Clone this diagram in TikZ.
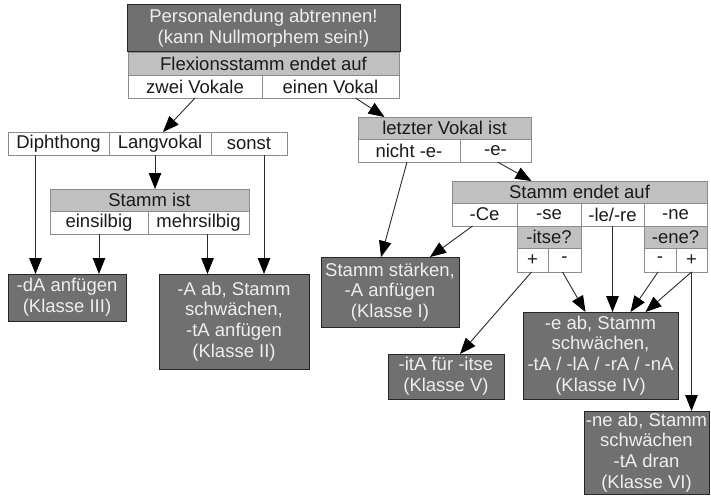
\documentclass[tikz,border=0pt]{standalone}
\usepackage{fontspec}
\setmainfont{Liberation Sans}
\usetikzlibrary{arrows.meta}
\definecolor{darkfill}{HTML}{707070}
\definecolor{headfill}{HTML}{C0C0C0}
\definecolor{tabline}{HTML}{8C8C8C}
\definecolor{lighttext}{HTML}{EEEEF2}
\definecolor{darktext}{HTML}{1A1A1A}
\definecolor{arrline}{HTML}{2A2A2A}
\newcommand\cell[7]{\node[#6, minimum width={(#4-#2)*1pt}, minimum height={(#5-#3)*1pt}] (#1) at ({(#2+#4)/2},{(#3+#5)/2}) {#7};}
\begin{document}
\begin{tikzpicture}[x=1pt,y=-1pt,
  base/.style={inner sep=0pt, outer sep=0pt, align=center, font=\fontsize{18.5}{20.7}\selectfont},
  darkbox/.style={base, draw=black!85, line width=1pt, fill=darkfill, text=lighttext},
  headbox/.style={base, draw=tabline, line width=0.9pt, fill=headfill, text=darktext},
  optbox/.style={base, draw=tabline, line width=0.9pt, fill=white, text=darktext},
  arr/.style={draw=arrline, line width=0.9pt, -{Triangle[length=16pt,width=12.5pt,color=black]}},
  ln/.style={draw=arrline, line width=0.9pt}]
\useasboundingbox[fill=white] (0,0) rectangle (711,495);
% top
\cell{top}{127}{5}{400}{52}{darkbox}{Personalendung abtrennen!\\(kann Nullmorphem sein!)}
\cell{flex}{128}{52}{399}{75}{headbox}{Flexionsstamm endet auf}
\cell{zwei}{128}{75}{262}{98}{optbox}{zwei Vokale}
\cell{einen}{262}{75}{399}{98}{optbox}{einen Vokal}
% left table
\cell{diph}{8}{132}{109}{155}{optbox}{Diphthong}
\cell{lang}{109}{132}{211}{155}{optbox}{Langvokal}
\cell{sonst}{211}{132}{287}{155}{optbox}{sonst}
\cell{stammist}{50}{189}{249}{211}{headbox}{Stamm ist}
\cell{eins}{50}{211}{148}{234}{optbox}{einsilbig}
\cell{mehr}{148}{211}{249}{234}{optbox}{mehrsilbig}
\cell{k3}{8}{274}{126}{321}{darkbox}{-dA anfügen\\(Klasse III)}
\cell{k2}{159}{274}{309}{369}{darkbox}{-A ab, Stamm\\schwächen,\\-tA anfügen\\(Klasse II)}
% right table
\cell{letzter}{358}{117}{531}{139}{headbox}{letzter Vokal ist}
\cell{nichte}{358}{139}{460}{162}{optbox}{nicht -e-}
\cell{ee}{460}{139}{531}{162}{optbox}{-e-}
\cell{k1}{321}{257}{459}{327}{darkbox}{Stamm stärken,\\-A anfügen\\(Klasse I)}
\cell{endet}{452}{181}{707}{203}{headbox}{Stamm endet auf}
\cell{ce}{452}{203}{517}{226}{optbox}{-Ce}
\cell{se}{517}{203}{581}{226}{optbox}{-se}
\cell{lere}{581}{203}{644}{226}{optbox}{-le/-re}
\cell{ne}{644}{203}{707}{226}{optbox}{-ne}
\cell{itse}{517}{226}{581}{248}{headbox}{-itse?}
\cell{itseplus}{517}{248}{548}{272}{optbox}{+}
\cell{itseminus}{548}{248}{581}{272}{optbox}{-}
\cell{ene}{644}{226}{707}{248}{headbox}{-ene?}
\cell{eneminus}{644}{248}{676}{272}{optbox}{-}
\cell{eneplus}{676}{248}{707}{272}{optbox}{+}
\cell{k5}{388}{354}{504}{399}{darkbox}{-itA für -itse\\(Klasse V)}
\cell{k4}{523}{312}{678}{399}{darkbox}{-e ab, Stamm\\schwächen,\\-tA / -lA / -rA / -nA\\(Klasse IV)}
\cell{k6}{584}{411}{709}{494}{darkbox}{-ne ab, Stamm\\schwächen\\-tA dran\\(Klasse VI)}
% connectors
\draw[arr] (zwei.south) -- ([xshift=3pt]lang.north);
\draw[arr] ([xshift=25pt]einen.south) -- ([xshift=-60pt]letzter.north);
\draw[arr] ([xshift=-23pt]diph.south) -- ([xshift=-23pt]diph.south |- k3.north);
\draw[arr] ([xshift=-5pt]lang.south) -- ([xshift=-5pt]lang.south |- stammist.north);
\draw[arr] ([xshift=15pt]sonst.south) -- ([xshift=15pt]sonst.south |- k2.north);
\draw[arr] (eins.south) -- (eins.south |- k3.north);
\draw[arr] ([xshift=9pt]mehr.south) -- ([xshift=9pt]mehr.south |- k2.north);
\draw[arr] ([xshift=-2pt]nichte.south) -- ([xshift=-9pt]k1.north);
\draw[arr] ([xshift=2pt]ee.south) -- ([xshift=-48pt]endet.north);
\draw[arr] ([xshift=-12pt]ce.south) -- ([xshift=40pt]k1.north);
\draw[arr] ([xshift=-1pt]itseplus.south) -- ([xshift=14pt]k5.north);
\draw[arr] ([xshift=-2pt]itseminus.south) -- ([xshift=-15pt]k4.north);
\draw[arr] (lere.south) -- (lere.south |- k4.north);
\draw[arr] ([xshift=-2pt]eneminus.south) -- ([xshift=30pt]k4.north);
\draw[arr] (eneplus.south) -- ([xshift=45pt]k4.north);
\draw[arr] (eneplus.south) -- (eneplus.south |- k6.north);
\end{tikzpicture}
\end{document}
